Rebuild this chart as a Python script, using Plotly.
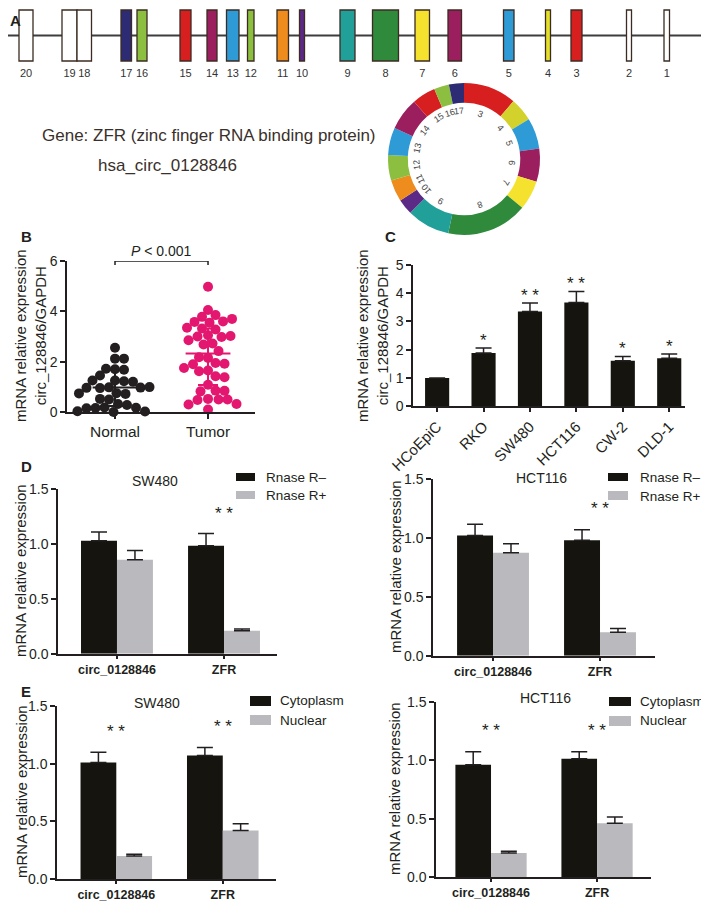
import numpy as np
import plotly.graph_objects as go

W, H = 709, 901
INK = "#231f20"
PINK = "#e3176f"
GRAY = "#b9b9be"
BLACK = "#15140f"
FONT = "Liberation Sans, Arial, sans-serif"


def fx(p):
    return p / W


def fy(p):
    return 1 - p / H


# ---------------- data ----------------
# panel A: exon map of ZFR (positions along the drawn gene)
exon_ids = [20, 19, 18, 17, 16, 15, 14, 13, 12, 11, 10, 9, 8, 7, 6, 5, 4, 3, 2, 1]
exon_start = [11, 54, 69, 113, 129, 172, 199, 218.5, 239.5, 269, 291.5, 332, 364.5, 407, 440, 495.5, 537.5, 563, 618.5, 656]
exon_end = [25, 69, 83.5, 123.5, 139, 183, 209, 231, 246, 280.5, 296.5, 347, 390.5, 421.5, 453.5, 506, 542.5, 574, 623.5, 661.5]

# circRNA ring: exons 3-17, arc sizes in degrees
ring_exons = ["3", "4", "5", "6", "7", "8", "9", "10", "11", "12", "13", "14", "15", "16", "17"]
ring_span = [40.5, 18, 23.5, 25.5, 22.5, 62, 33, 12, 16.5, 19.5, 21, 25, 18, 11.5, 11.5]

# panel B
b_groups = ["Normal", "Tumor"]
normal_vals = [2.55, 2.12, 2.12, 1.7, 1.68, 1.72, 1.45, 1.25, 1.22, 1.2, 1.25, 0.98, 0.95, 0.97,
               0.96, 0.99, 0.75, 0.72, 0.74, 0.5, 0.52, 0.32, 0.28, 0.18, 0.16, 0.17, 0.15, 0.02, 0.0, 0.03]
tumor_vals = [4.98, 4.05, 3.85, 3.78, 3.6, 3.55, 3.58, 3.32, 3.28, 3.35, 3.05, 3.0, 2.98, 3.02, 2.72,
              2.68, 2.42, 2.15, 2.18, 1.95, 1.92, 1.9, 1.65, 1.62, 1.42, 1.38, 1.08, 0.85, 0.82, 0.84,
              0.52, 0.5, 0.48, 0.5, 0.3, 0.32, 0.1, 2.85, 3.7, 1.75]
b_mean = [0.97, 2.32]
b_sd_up = [0.70, 1.00]
b_sd_down = [0.73, 1.25]

# panel C
c_lines = ["HCoEpiC", "RKO", "SW480", "HCT116", "CW-2", "DLD-1"]
c_vals = [1.0, 1.88, 3.35, 3.67, 1.61, 1.70]
c_err = [0.0, 0.18, 0.30, 0.39, 0.15, 0.15]
c_sig = ["", "*", "* *", "* *", "*", "*"]

# panels D / E
genes = ["circ_0128846", "ZFR"]
d_sw480_minus = [1.03, 0.985]
d_sw480_minus_err = [0.08, 0.11]
d_sw480_plus = [0.857, 0.21]
d_sw480_plus_err = [0.085, 0.015]
d_hct_minus = [1.02, 0.98]
d_hct_minus_err = [0.095, 0.09]
d_hct_plus = [0.873, 0.20]
d_hct_plus_err = [0.077, 0.03]
d_sig = ["", "* *"]

e_sw480_cyto = [1.01, 1.07]
e_sw480_cyto_err = [0.09, 0.07]
e_sw480_nuc = [0.20, 0.42]
e_sw480_nuc_err = [0.015, 0.06]
e_hct_cyto = [0.963, 1.014]
e_hct_cyto_err = [0.11, 0.06]
e_hct_nuc = [0.206, 0.46]
e_hct_nuc_err = [0.015, 0.055]
e_sig = ["* *", "* *"]

EXON_COLOR = {17: "#2c2b74", 16: "#8cbf3f", 15: "#d81f20", 14: "#9b1f5e", 13: "#2e9bd6",
              12: "#8cbf3f", 11: "#ee8c1e", 10: "#5c2a86", 9: "#21a09a", 8: "#2f8a3c",
              7: "#f4e22e", 6: "#9b1f5e", 5: "#2e9bd6", 4: "#e4df2c", 3: "#d81f20"}
RING_COLOR = {"3": "#d81f20", "4": "#d3d12c", "5": "#2e9bd6", "6": "#9b1f5e", "7": "#f4e22e",
              "8": "#2f8a3c", "9": "#21a09a", "10": "#5c2a86", "11": "#ee8c1e", "12": "#8cbf3f",
              "13": "#2e9bd6", "14": "#9b1f5e", "15": "#d81f20", "16": "#8cbf3f", "17": "#2c2b74"}


def swarm(values, center, px_x, px_y, diam=9.0, step=1.5):
    # simple deterministic beeswarm in pixel space
    placed = []
    xs = []
    for v in values:
        yp = v * px_y
        off = 0.0
        for k in range(200):
            cands = [0.0] if k == 0 else [k * step, -k * step]
            hit = None
            for c in cands:
                if all((c - a) ** 2 + (yp - b) ** 2 >= diam ** 2 for a, b in placed):
                    hit = c
                    break
            if hit is not None:
                off = hit
                break
        placed.append((off, yp))
        xs.append(center + off / px_x)
    return xs


fig = go.Figure()
ann = []
shapes = []


def note(x, y, text, size, **kw):
    d = dict(x=fx(x), y=fy(y), xref="paper", yref="paper", xanchor="center", yanchor="middle",
             showarrow=False, text=text, font=dict(size=size, color=kw.pop("color", INK)))
    if "weight" in kw:
        d["font"]["weight"] = kw.pop("weight")
    d.update(kw)
    ann.append(d)


# ---------------- panel A ----------------
centers = [(s + e) / 2 for s, e in zip(exon_start, exon_end)]
widths = [e - s for s, e in zip(exon_start, exon_end)]
fig.add_trace(go.Bar(x=centers, y=[2] * len(centers), base=-1, width=widths,
                     marker=dict(color=[EXON_COLOR.get(k, "white") for k in exon_ids],
                                 line=dict(color="#3b2b22", width=1.3)),
                     xaxis="x", yaxis="y", hoverinfo="skip", showlegend=False))
fig.add_trace(go.Scatter(x=centers, y=[-1.52] * len(centers), mode="text",
                         text=[str(k) for k in exon_ids], textfont=dict(size=11, color="#333333"),
                         xaxis="x", yaxis="y", cliponaxis=False, hoverinfo="skip", showlegend=False))
shapes.append(dict(type="line", xref="x domain", yref="y", x0=0, x1=1, y0=0, y1=0,
                   line=dict(color="#3d3d3d", width=2), layer="below"))

# ring
fig.add_trace(go.Pie(values=ring_span, labels=ring_exons, sort=False, direction="clockwise",
                     rotation=0, hole=0.74, textinfo="none", hoverinfo="skip", showlegend=False,
                     marker=dict(colors=[RING_COLOR[k] for k in ring_exons], line=dict(width=0)),
                     domain=dict(x=[fx(380), fx(532)], y=[fy(227), fy(75)])))
cum = np.cumsum([0] + ring_span)
mids = (cum[:-1] + cum[1:]) / 2
for lab, th in zip(ring_exons, mids):
    t = np.radians(th)
    note(456 + 48 * np.sin(t), 151 - 48 * np.cos(t), lab, 9, color="#444444",
         textangle=float(th if th <= 180 else th - 360))

note(32, 128, "Gene: ZFR (zinc finger RNA binding protein)", 17, color="#3a302b", xanchor="left")
note(88, 157, "hsa_circ_0128846", 17, color="#3a302b", xanchor="left")

# ---------------- panel B ----------------
PXB, PYB = 93.0, 25.2
for i, (vals, col) in enumerate([(normal_vals, INK), (tumor_vals, PINK)]):
    fig.add_trace(go.Scatter(x=swarm(vals, i, PXB, PYB), y=vals, mode="markers",
                             marker=dict(size=10, color=col, line=dict(width=0)),
                             xaxis="x2", yaxis="y2", cliponaxis=False, hoverinfo="skip", showlegend=False))
for i, col in enumerate([INK, PINK]):
    fig.add_trace(go.Scatter(x=[i], y=[b_mean[i]], mode="markers",
                             marker=dict(symbol="line-ew", size=32, line=dict(width=2, color=col)),
                             error_y=dict(type="data", symmetric=False, array=[b_sd_up[i]],
                                          arrayminus=[b_sd_down[i]], color=col, thickness=2, width=10),
                             xaxis="x2", yaxis="y2", cliponaxis=False, hoverinfo="skip", showlegend=False))
fig.add_trace(go.Scatter(x=[0, 0, 1, 1], y=[5.84, 6.0, 6.0, 5.84], mode="lines",
                         line=dict(color=INK, width=1.5), xaxis="x2", yaxis="y2", cliponaxis=False,
                         hoverinfo="skip", showlegend=False))
ann.append(dict(x=0.5, y=6.0, xref="x2", yref="y2", xanchor="center", yanchor="bottom", yshift=0,
                showarrow=False, text="<i>P</i> < 0.001", font=dict(size=14, color=INK)))

# ---------------- panel C ----------------
fig.add_trace(go.Bar(x=c_lines, y=c_vals, width=0.52, marker=dict(color=BLACK, line=dict(width=0)),
                     error_y=dict(type="data", symmetric=False, array=c_err, arrayminus=[0] * 6,
                                  color=INK, thickness=1.5, width=8),
                     xaxis="x3", yaxis="y3", hoverinfo="skip", showlegend=False))
for i, s in enumerate(c_sig):
    if s:
        ann.append(dict(x=i, y=c_vals[i] + c_err[i], xref="x3", yref="y3", xanchor="center",
                        yanchor="bottom", yshift=-4, showarrow=False, text=s,
                        font=dict(size=17, color=INK)))


# ---------------- panels D / E ----------------
def bar_pair(ax, a, a_err, b, b_err, sig):
    xa, ya = "x" + ax, "y" + ax
    bw = 0.336
    for vals, err, col, off in [(a, a_err, BLACK, -bw), (b, b_err, GRAY, 0.0)]:
        fig.add_trace(go.Bar(x=genes, y=vals, width=bw, offset=off,
                             marker=dict(color=col, line=dict(width=0)),
                             error_y=dict(type="data", symmetric=False, array=err, arrayminus=[0] * len(err),
                                          color=INK, thickness=1.5, width=8),
                             xaxis=xa, yaxis=ya, hoverinfo="skip", showlegend=False))
    for i, s in enumerate(sig):
        if not s:
            continue
        top = max(a[i] + a_err[i], b[i] + b_err[i])
        fig.add_trace(go.Scatter(x=[i - bw / 2, i - bw / 2, i + bw / 2, i + bw / 2],
                                 y=[top + 0.035, top + 0.115, top + 0.115, top + 0.035], mode="lines",
                                 line=dict(color=INK, width=1.5), xaxis=xa, yaxis=ya, cliponaxis=False,
                                 hoverinfo="skip", showlegend=False))
        ann.append(dict(x=i, y=top + 0.115, xref=xa, yref=ya, xanchor="center", yanchor="bottom",
                        yshift=-4, showarrow=False, text=s, font=dict(size=17, color=INK)))


bar_pair("4", d_sw480_minus, d_sw480_minus_err, d_sw480_plus, d_sw480_plus_err, d_sig)
bar_pair("5", d_hct_minus, d_hct_minus_err, d_hct_plus, d_hct_plus_err, d_sig)
bar_pair("6", e_sw480_cyto, e_sw480_cyto_err, e_sw480_nuc, e_sw480_nuc_err, e_sig)
bar_pair("7", e_hct_cyto, e_hct_cyto_err, e_hct_nuc, e_hct_nuc_err, e_sig)

# titles and legends
for (tx, ty, t) in [(147, 473, "SW480"), (533, 470, "HCT116"), (149, 695, "SW480"), (537, 690, "HCT116")]:
    note(tx, ty, t, 14)

legends = [
    (228, 247, 465, 473, 483, 491, 256, 469, 487, "Rnase R–", "Rnase R+"),
    (600, 620, 465, 473, 483, 492, 630, 469, 488, "Rnase R–", "Rnase R+"),
    (242, 263, 688, 698, 707, 717, 270, 692, 712, "Cytoplasm", "Nuclear"),
    (601, 623, 689, 698, 708, 718, 630, 693, 712, "Cytoplasm", "Nuclear"),
]
for x0, x1, a0, a1, g0, g1, tx, t1, t2, n1, n2 in legends:
    shapes.append(dict(type="rect", xref="paper", yref="paper", x0=fx(x0), x1=fx(x1), y0=fy(a1), y1=fy(a0),
                       fillcolor=BLACK, line=dict(width=0)))
    shapes.append(dict(type="rect", xref="paper", yref="paper", x0=fx(x0), x1=fx(x1), y0=fy(g1), y1=fy(g0),
                       fillcolor=GRAY, line=dict(width=0)))
    note(tx, t1, n1, 13.5, xanchor="left")
    note(tx, t2, n2, 13.5, xanchor="left")

# axis titles
two_line = "mRNA relative expression<br>circ_128846/GAPDH"
for (tx, ty, t) in [(22, 328, two_line), (364, 328, two_line), (12, 563, "mRNA relative expression"),
                    (387, 559, "mRNA relative expression"), (13, 784, "mRNA relative expression"),
                    (386, 781, "mRNA relative expression")]:
    note(tx, ty, t, 15, textangle=-90)

# panel letters
for (tx, ty, t) in [(7, 12, "A"), (18, 228, "B"), (382, 228, "C"), (18, 458, "D"), (18, 683, "E")]:
    note(tx, ty, t, 15, weight="bold")


def ax(**kw):
    base = dict(showline=True, linecolor=INK, linewidth=1.5, ticks="outside", ticklen=5, tickwidth=1.5,
                tickcolor=INK, showgrid=False, zeroline=False, fixedrange=True, automargin=False,
                tickfont=dict(size=14, color=INK))
    base.update(kw)
    return base


bold = dict(size=12.5, color=INK, weight="bold")
fig.update_layout(
    template="none",
    width=W, height=H, margin=dict(l=0, r=0, t=0, b=0, autoexpand=False),
    paper_bgcolor="white", plot_bgcolor="rgba(0,0,0,0)",
    font=dict(family=FONT, color=INK), barmode="group", showlegend=False,
    xaxis=dict(domain=[0, 1], range=[0, W], visible=False, fixedrange=True, automargin=False),
    yaxis=dict(domain=[fy(75), 1], range=[-1.863, 1.078], visible=False, fixedrange=True, automargin=False),
    xaxis2=ax(domain=[fx(59), fx(247)], anchor="y2", range=[-0.516, 1.505], tickvals=[0, 1],
              ticktext=b_groups, tickfont=dict(size=15.5, color=INK)),
    yaxis2=ax(domain=[fy(404), fy(253)], anchor="x2", range=[0, 6], tickvals=[0, 2, 4, 6]),
    xaxis3=ax(domain=[fx(405), fx(677)], anchor="y3", type="category", range=[-0.52, 5.34],
              tickangle=-45, ticklen=4, tickfont=dict(size=15, color=INK)),
    yaxis3=ax(domain=[fy(398.3), fy(256.8)], anchor="x3", range=[0, 5], dtick=1),
    xaxis4=ax(domain=[fx(50), fx(269)], anchor="y4", type="category", range=[-0.551, 1.495],
              ticklen=4, tickfont=bold),
    yaxis4=ax(domain=[fy(645.7), fy(481.2)], anchor="x4", range=[0, 1.5], dtick=0.5, tickformat=".1f"),
    xaxis5=ax(domain=[fx(425), fx(647)], anchor="y5", type="category", range=[-0.561, 1.514],
              ticklen=4, tickfont=bold),
    yaxis5=ax(domain=[fy(647.7), fy(471)], anchor="x5", range=[0, 1.5], dtick=0.5, tickformat=".1f"),
    xaxis6=ax(domain=[fx(49), fx(268)], anchor="y6", type="category", range=[-0.557, 1.5],
              ticklen=3, tickfont=bold),
    yaxis6=ax(domain=[fy(871), fy(698)], anchor="x6", range=[0, 1.5], dtick=0.5, tickformat=".1f"),
    xaxis7=ax(domain=[fx(428), fx(643)], anchor="y7", type="category", range=[-0.519, 1.509],
              ticklen=3, tickfont=bold),
    yaxis7=ax(domain=[fy(869), fy(694)], anchor="x7", range=[0, 1.5], dtick=0.5, tickformat=".1f"),
    annotations=ann, shapes=shapes,
)

fig.write_html("out.html")
